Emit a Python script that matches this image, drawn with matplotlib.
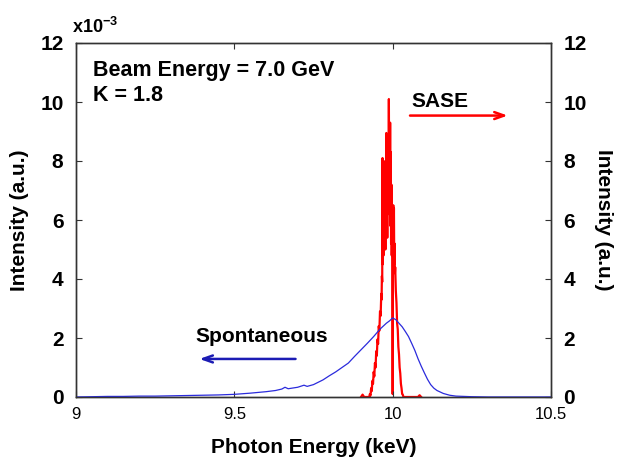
import matplotlib
matplotlib.use("Agg")
import matplotlib.pyplot as plt

plt.rcParams['font.family'] = ['Liberation Sans', 'DejaVu Sans']
plt.rcParams['mathtext.fontset'] = 'custom'
plt.rcParams['mathtext.rm'] = 'Liberation Sans:bold'
plt.rcParams['mathtext.bf'] = 'Liberation Sans:bold'

# Spontaneous emission (left axis, units of 1e-3)
spont_x = [9.00, 9.05, 9.10, 9.15, 9.20, 9.25, 9.30, 9.35, 9.40, 9.45, 9.50,
           9.55, 9.60, 9.63, 9.65, 9.66, 9.67, 9.70, 9.72, 9.73, 9.75, 9.78,
           9.80, 9.82, 9.84, 9.86, 9.88, 9.90, 9.92, 9.94, 9.96, 9.98, 9.99,
           10.00, 10.01, 10.02, 10.03, 10.04, 10.05, 10.06, 10.07, 10.08,
           10.09, 10.10, 10.11, 10.12, 10.13, 10.14, 10.16, 10.18, 10.20,
           10.25, 10.30, 10.50]
spont_y = [0.00, 0.01, 0.02, 0.02, 0.03, 0.03, 0.04, 0.05, 0.06, 0.07, 0.09,
           0.13, 0.18, 0.22, 0.27, 0.33, 0.28, 0.33, 0.40, 0.36, 0.42, 0.58,
           0.72, 0.85, 1.00, 1.15, 1.38, 1.60, 1.82, 2.05, 2.30, 2.50, 2.58,
           2.68, 2.62, 2.50, 2.38, 2.22, 2.05, 1.82, 1.58, 1.30,
           1.05, 0.82, 0.60, 0.42, 0.30, 0.22, 0.12, 0.06, 0.03,
           0.01, 0.00, 0.00]

# SASE (right axis)
sase_x = [9.900, 9.905, 9.910, 9.918,
          9.926, 9.928, 9.930, 9.932, 9.934, 9.936, 9.938, 9.940, 9.942, 9.944,
          9.946, 9.948, 9.950, 9.952, 9.954, 9.956, 9.958, 9.960, 9.962, 9.964,
          9.965, 9.966, 9.967, 9.968, 9.969, 9.970, 9.971, 9.972, 9.973, 9.974,
          9.975, 9.976, 9.977, 9.978, 9.979, 9.980, 9.981, 9.982, 9.983, 9.984,
          9.985, 9.986, 9.987, 9.988, 9.989, 9.990, 9.991, 9.992, 9.993, 9.994,
          9.995, 9.996, 9.997, 9.998, 9.999, 10.000, 10.001, 10.002, 10.003,
          10.004, 10.005, 10.006, 10.007, 10.008,
          10.010, 10.012, 10.014, 10.016, 10.018, 10.020, 10.022, 10.024,
          10.026, 10.028, 10.030, 10.032, 10.034, 10.040, 10.060, 10.080,
          10.085, 10.090]
sase_y = [0.00, 0.08, 0.00, 0.00,
          0.00, 0.10, 0.05, 0.30, 0.20, 0.55, 0.45, 0.85, 0.70, 1.15,
          1.00, 1.55, 1.40, 1.95, 1.80, 2.40, 2.25, 2.90, 2.75, 3.50,
          3.30, 4.10, 3.90, 8.10, 4.50, 5.60, 4.80, 8.00, 5.10, 7.00,
          5.30, 6.80, 5.00, 7.50, 5.60, 8.95, 6.00, 7.80, 5.40, 8.40,
          6.20, 7.60, 6.60, 10.10, 7.00, 9.00, 6.20, 9.30, 5.80, 8.30,
          5.20, 7.20, 4.80, 6.00, 4.40, 0.10, 4.50, 6.50, 4.80,
          6.40, 4.50, 5.20, 4.20, 4.40,
          3.60, 3.20, 2.50, 2.30, 1.70, 1.45, 1.00, 0.80,
          0.45, 0.30, 0.10, 0.08, 0.00, 0.00, 0.00, 0.00,
          0.06, 0.00]

x_ticks = [9, 9.5, 10, 10.5]
x_tick_labels = ['9', '9.5', '10', '10.5']
y_ticks = [0, 2, 4, 6, 8, 10, 12]

fig = plt.figure(figsize=(6.21, 4.63), dpi=100)
ax = fig.add_axes([76/621, 1-397/463, 475/621, 354/463])
ax2 = ax.twinx()

ax2.plot(sase_x, sase_y, color='#ff0000', lw=1.6)
ax.plot(spont_x, spont_y, color='#2b2bdc', lw=0.9)
ax.set_zorder(ax2.get_zorder() + 1)
ax.patch.set_visible(False)

for a in (ax, ax2):
    a.set_xlim(9, 10.5)
    a.set_ylim(0, 12)
    a.set_yticks(y_ticks)
    a.set_yticklabels([str(v) for v in y_ticks], fontweight='bold', fontsize=15)
    for s in a.spines.values():
        s.set_color('#333333')
        s.set_linewidth(1.0)

ax.set_xticks(x_ticks)
ax.set_xticklabels(x_tick_labels, fontsize=12)
ax.tick_params(axis='x', direction='in', top=True, length=4, pad=7, color='#333333')
ax.tick_params(axis='y', direction='in', left=True, right=False, length=4, pad=9, color='#333333')
ax2.tick_params(axis='y', direction='in', length=4, pad=9, color='#333333')

ax.set_xlabel('Photon Energy (keV)', fontsize=15, fontweight='bold', labelpad=12)
ax.set_ylabel('Intensity (a.u.)', fontsize=15, fontweight='bold', labelpad=8)
ax2.set_ylabel('Intensity (a.u.)', fontsize=15, fontweight='bold', rotation=270, labelpad=19)

fig.text(72/621, 1-33/463, r'x10$^{-3}$', fontsize=13, fontweight='bold', va='baseline')

ax.text(9.053, 10.88, 'Beam Energy = 7.0 GeV', fontsize=15.5, fontweight='bold', va='baseline')
ax.text(9.053, 10.05, 'K = 1.8', fontsize=15.5, fontweight='bold', va='baseline')
ax.text(10.06, 9.83, 'SASE', fontsize=15, fontweight='bold', va='baseline')
ax.text(9.376, 1.87, 'Spontaneous', fontsize=15, fontweight='bold', va='baseline')

ax.annotate('', xy=(10.372, 9.54), xytext=(10.046, 9.54),
            arrowprops=dict(arrowstyle='->,head_length=0.7,head_width=0.25',
                            color='#ff0000', lw=1.8))
ax.annotate('', xy=(9.381, 1.29), xytext=(9.702, 1.29),
            arrowprops=dict(arrowstyle='->,head_length=0.7,head_width=0.25',
                            color='#1c1cb4', lw=1.8))

fig.savefig('out.png', dpi=100)
